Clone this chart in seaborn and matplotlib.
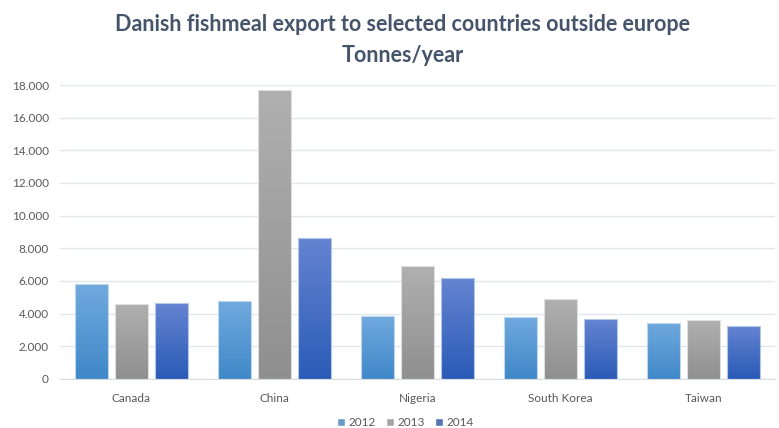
import numpy as np
import pandas as pd
import matplotlib.pyplot as plt
import matplotlib.colors as mcolors
from matplotlib.ticker import FuncFormatter
import seaborn as sns

# data (tonnes/year)
countries = ['Canada', 'China', 'Nigeria', 'South Korea', 'Taiwan']
years = ['2012', '2013', '2014']
exports_2012 = [5800, 4750, 3850, 3800, 3450]
exports_2013 = [4600, 17700, 6900, 4900, 3600]
exports_2014 = [4650, 8650, 6200, 3700, 3250]

df = pd.DataFrame({
    'country': countries * 3,
    'year': np.repeat(years, len(countries)),
    'tonnes': exports_2012 + exports_2013 + exports_2014,
})

palette = {'2012': '#5B9BD5', '2013': '#A5A5A5', '2014': '#4472C4'}
# bottom -> top colours of the office-style gradient
gradients = {'2012': ('#4088C8', '#70A9DE'),
             '2013': ('#8F8F8F', '#B0B0B0'),
             '2014': ('#2A5BB7', '#6584D1')}
edges = {'2012': '#BDD7EE', '2013': '#DEDEDE', '2014': '#B4C7E7'}

sns.set_style('white')
plt.rcParams['font.family'] = ['Lato', 'DejaVu Sans']

fig = plt.figure(figsize=(7.79, 4.28), dpi=100)
ax = fig.add_axes([0.077, 0.1145, 0.918, 0.6869])

sns.barplot(data=df, x='country', y='tonnes', hue='year', palette=palette,
            width=0.84, gap=0.19, ax=ax)

# gradient fill for each bar
grad = np.linspace(0, 1, 256).reshape(-1, 1)
for yr, cont in zip(years, ax.containers):
    cmap = mcolors.LinearSegmentedColormap.from_list(yr, gradients[yr])
    for bar in cont:
        x, w, h = bar.get_x(), bar.get_width(), bar.get_height()
        im = ax.imshow(grad, cmap=cmap, origin='lower', aspect='auto',
                       extent=[x, x + w, 0, h], zorder=2)
        im.set_clip_path(bar)
        bar.set_facecolor('none')
        bar.set_edgecolor(edges[yr])
        bar.set_linewidth(0.8)
        bar.set_zorder(3)

ax.set_xlim(-0.5, 4.5)
ax.set_ylim(0, 18000)
ax.set_yticks(range(0, 18001, 2000))
ax.yaxis.set_major_formatter(FuncFormatter(lambda v, p: f'{int(v):,}'.replace(',', '.')))
ax.yaxis.grid(True, color='#E3E6EC', lw=1)
ax.set_axisbelow(True)
for s in ['top', 'right', 'left']:
    ax.spines[s].set_visible(False)
ax.spines['bottom'].set_color('#D9DDE3')
ax.tick_params(axis='both', length=0, colors='#595959', labelsize=8.5)
ax.tick_params(axis='x', pad=10)
ax.tick_params(axis='y', pad=8)
ax.set_xlabel('')
ax.set_ylabel('')

fig.text(0.517, 0.906, 'Danish fishmeal export to selected countries outside europe\nTonnes/year',
         ha='center', va='center', fontsize=15.5, fontweight='bold', color='#44546A',
         linespacing=1.6)

ax.legend(loc='center', bbox_to_anchor=(0.5205, 0.013), bbox_transform=fig.transFigure,
          ncol=3, frameon=False, fontsize=8.5, handlelength=0.65, handleheight=0.65,
          handletextpad=0.3, columnspacing=0.9, labelcolor='#595959', borderpad=0)

fig.savefig('out.png', dpi=100)
